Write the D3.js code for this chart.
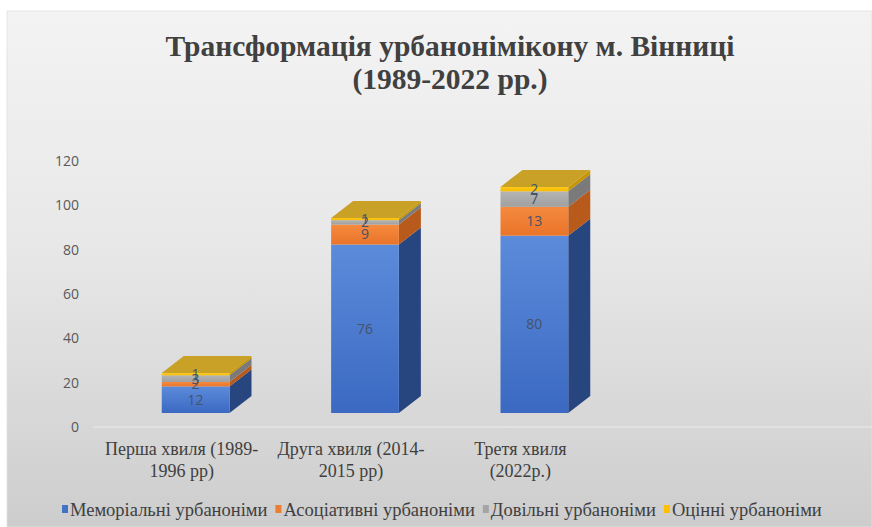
<!DOCTYPE html>
<html>
<head>
<meta charset="utf-8">
<script src="https://cdn.jsdelivr.net/npm/d3@7"></script>
<style>
  body { margin: 0; background: #fff; }
  svg { display: block; }
  .serif { font-family: "Liberation Serif", "Times New Roman", serif; }
  .sans { font-family: "Open Sans", "Liberation Sans", sans-serif; }
</style>
</head>
<body>
<div id="chart"></div>
<script>
var categories = [["Перша хвиля (1989-", "1996 pp)"], ["Друга хвиля (2014-", "2015 pp)"], ["Третя хвиля", "(2022р.)"]];
var seriesNames = ["Меморіальні урбаноніми", "Асоціативні урбаноніми", "Довільні урбаноніми", "Оцінні урбаноніми"];
var memorial = [12, 76, 80];
var associative = [2, 9, 13];
var arbitrary = [3, 2, 7];
var evaluative = [1, 1, 2];
var yTicks = [0, 20, 40, 60, 80, 100, 120];

var palette = [
  {front: ["#5c8bdb", "#3b69c2"], side: "#27467f", mid: "#4472c4"},
  {front: ["#f58a3e", "#e9742a"], side: "#b85a1c", mid: "#ed7d31"},
  {front: ["#b4b4b4", "#a0a0a0"], side: "#7a7a7a", mid: "#a5a5a5"},
  {front: ["#ffc91a", "#f7bb00"], side: "#c69500", mid: "#ffc000"}
];
var topColor = "#c9a127";

var W = 872, H = 527;
var depth = {x: 22, y: 17}, lift = 14;

var svg = d3.select("#chart").append("svg")
  .attr("width", W).attr("height", H);

var defs = svg.append("defs");
var bg = defs.append("linearGradient").attr("id", "bg")
  .attr("x1", 0).attr("y1", 0).attr("x2", 0).attr("y2", 1);
bg.append("stop").attr("offset", "0%").attr("stop-color", "#f3f3f3");
bg.append("stop").attr("offset", "45%").attr("stop-color", "#e8e8e8");
bg.append("stop").attr("offset", "100%").attr("stop-color", "#cdcdcd");

palette.forEach(function(p, i) {
  var g = defs.append("linearGradient").attr("id", "front" + i)
    .attr("x1", 0).attr("y1", 0).attr("x2", 0).attr("y2", 1);
  g.append("stop").attr("offset", "0%").attr("stop-color", p.front[0]);
  g.append("stop").attr("offset", "100%").attr("stop-color", p.front[1]);
});

svg.append("rect")
  .attr("x", 7).attr("y", 11)
  .attr("width", W - 7).attr("height", H - 11)
  .attr("fill", "url(#bg)")
  .attr("stroke", "#e0e0e0").attr("stroke-width", 0.8);

// title
var title = svg.append("text")
  .attr("class", "serif")
  .attr("text-anchor", "middle")
  .style("font-weight", "bold")
  .style("font-size", "29.5px")
  .attr("fill", "#404040");
title.append("tspan").attr("x", 450).attr("y", 56).text("Трансформація урбанонімікону м. Вінниці");
title.append("tspan").attr("x", 450).attr("y", 89).text("(1989-2022 рр.)");

// scales
var x = d3.scaleBand()
  .domain(d3.range(categories.length))
  .range([94, 636])
  .paddingInner(0.6)
  .paddingOuter(0.4);

var y = d3.scaleLinear().domain([0, 120]).range([427, 161]);

var yAxis = d3.axisLeft(y).tickValues(yTicks).tickSize(0).tickPadding(0);
svg.append("g")
  .attr("transform", "translate(79,0)")
  .call(yAxis)
  .call(function(g) {
    g.attr("font-family", null).attr("font-size", null);
    g.select(".domain").remove();
    g.selectAll("text")
      .attr("class", "sans")
      .style("font-size", "14px")
      .attr("fill", "#595959");
  });

// floor line
svg.append("line")
  .attr("x1", 93).attr("x2", W)
  .attr("y1", y(0)).attr("y2", y(0))
  .attr("stroke", "#ececec").attr("stroke-width", 1.2);

// stacked 3d bars
var rows = categories.map(function(c, i) {
  return {i: i, memorial: memorial[i], associative: associative[i], arbitrary: arbitrary[i], evaluative: evaluative[i]};
});
var stack = d3.stack().keys(["memorial", "associative", "arbitrary", "evaluative"])(rows);

function fy(v) { return y(v) - lift; }

categories.forEach(function(c, i) {
  var x0 = x(i), x1 = x(i) + x.bandwidth();
  var g = svg.append("g");
  stack.forEach(function(layer, k) {
    var d = layer[i];
    var yb = fy(d[0]), yt = fy(d[1]);
    g.append("path")
      .attr("d", "M" + x1 + "," + yb + "L" + x1 + "," + yt +
        "L" + (x1 + depth.x) + "," + (yt - depth.y) +
        "L" + (x1 + depth.x) + "," + (yb - depth.y) + "Z")
      .attr("fill", palette[k].side);
    g.append("rect")
      .attr("x", x0).attr("y", yt)
      .attr("width", x.bandwidth()).attr("height", yb - yt)
      .attr("fill", "url(#front" + k + ")");
  });
  var top = fy(stack[stack.length - 1][i][1]);
  g.append("path")
    .attr("d", "M" + x0 + "," + top + "L" + x1 + "," + top +
      "L" + (x1 + depth.x) + "," + (top - depth.y) +
      "L" + (x0 + depth.x) + "," + (top - depth.y) + "Z")
    .attr("fill", topColor);

  stack.forEach(function(layer, k) {
    var d = layer[i];
    g.append("text")
      .attr("class", "sans")
      .attr("x", (x0 + x1) / 2)
      .attr("y", (fy(d[0]) + fy(d[1])) / 2)
      .attr("dy", "0.35em")
      .attr("text-anchor", "middle")
      .style("font-size", "14px")
      .attr("fill", "#44546a")
      .text(d[1] - d[0]);
  });
});

// x labels
categories.forEach(function(c, i) {
  var t = svg.append("text")
    .attr("class", "serif")
    .attr("text-anchor", "middle")
    .style("font-size", "18px")
    .attr("fill", "#404040");
  c.forEach(function(line, j) {
    t.append("tspan")
      .attr("x", x(i) + x.bandwidth() / 2 - 14)
      .attr("y", 455 + j * 22)
      .text(line);
  });
});

// legend
var legend = svg.append("g").attr("transform", "translate(62,510)");
var lx = 0;
seriesNames.forEach(function(name, k) {
  var item = legend.append("g").attr("transform", "translate(" + lx + ",0)");
  item.append("rect")
    .attr("x", 0).attr("y", -5).attr("width", 6).attr("height", 8)
    .attr("fill", palette[k].mid);
  var t = item.append("text")
    .attr("class", "serif")
    .attr("x", 8).attr("y", 0).attr("dy", "0.32em")
    .style("font-size", "18.5px")
    .attr("fill", "#404040")
    .text(name);
  lx += 8 + t.node().getComputedTextLength() + 8;
});
</script>
</body>
</html>
